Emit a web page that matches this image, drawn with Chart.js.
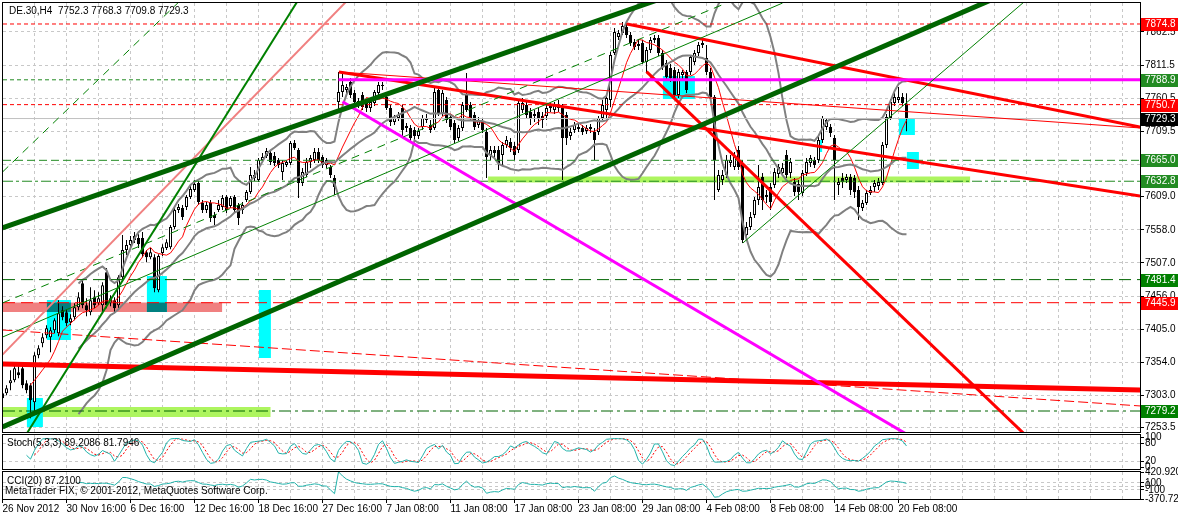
<!DOCTYPE html>
<html>
<head>
<meta charset="utf-8">
<title>DE.30,H4</title>
<script src="https://cdn.jsdelivr.net/npm/chart.js@4.4.1/dist/chart.umd.min.js"></script>
<style>
  html, body { margin: 0; padding: 0; background: #fff; overflow: hidden; }
  #wrap { position: relative; width: 1178px; height: 516px; }
  #wrap canvas { position: absolute; left: 0; top: 0; }
</style>
</head>
<body>
<div id="wrap">
  <canvas id="mainChart" width="1178" height="516"></canvas>
  <canvas id="stochChart" width="1178" height="516"></canvas>
  <canvas id="cciChart" width="1178" height="516"></canvas>
</div>
<script>
// DE.30 H4 candles, bar 0 = 26 Nov 2012 ... bar 226 = 20 Feb 2013 16:00
let opens = [
    7298.9, 7306.6, 7322.0, 7326.6, 7338.9, 7345.1, 7322.0, 7318.9, 7292.7, 7365.1,
    7383.6, 7395.9, 7392.8, 7403.6, 7399.0, 7434.4, 7431.3, 7415.9, 7423.6, 7439.0,
    7476.0, 7442.1, 7431.3, 7454.4, 7445.2, 7442.1, 7492.9, 7445.2, 7449.8, 7442.1,
    7485.2, 7526.8, 7534.5, 7542.2, 7545.3, 7545.3, 7523.7, 7516.0, 7516.0, 7465.2,
    7522.2, 7529.9, 7531.4, 7562.2, 7588.4, 7591.5, 7593.0, 7608.4, 7619.2, 7630.0,
    7599.2, 7588.4, 7599.2, 7580.7, 7588.4, 7593.0, 7608.4, 7594.6, 7608.4, 7596.1,
    7588.4, 7603.8, 7616.1, 7642.3, 7634.6, 7665.4, 7671.6, 7676.2, 7671.6, 7665.4,
    7646.9, 7657.7, 7660.8, 7691.6, 7680.8, 7630.0, 7642.3, 7662.3, 7665.4, 7677.7,
    7670.0, 7657.7, 7654.6, 7637.7, 7754.7, 7770.1, 7773.2, 7785.5, 7768.6, 7756.3,
    7765.5, 7753.2, 7745.5, 7753.2, 7768.6, 7780.9, 7762.4, 7745.5, 7724.1, 7730.1,
    7745.5, 7714.7, 7714.7, 7711.6, 7702.4, 7716.2, 7727.0, 7719.3, 7714.7, 7773.2,
    7737.8, 7757.8, 7731.6, 7722.4, 7699.3, 7714.7, 7765.5, 7750.1, 7734.7, 7719.3,
    7723.9, 7708.5, 7673.1, 7680.8, 7680.8, 7673.1, 7688.5, 7693.1, 7687.0, 7680.8,
    7742.4, 7750.1, 7739.3, 7733.2, 7739.3, 7733.2, 7733.2, 7745.5, 7742.4, 7748.6,
    7745.5, 7734.7, 7702.4, 7711.6, 7716.2, 7714.7, 7710.1, 7713.1, 7708.5, 7708.5,
    7730.1, 7742.4, 7757.8, 7830.2, 7854.8, 7861.0, 7870.2, 7857.9, 7847.1, 7841.0,
    7845.6, 7816.3, 7834.8, 7850.2, 7853.3, 7830.2, 7814.8, 7807.1, 7804.0, 7765.5,
    7796.3, 7800.9, 7800.9, 7816.3, 7830.2, 7842.5, 7822.5, 7800.9, 7762.4, 7619.2,
    7634.6, 7642.3, 7660.8, 7654.6, 7680.8, 7660.8, 7549.9, 7562.2, 7580.7, 7603.8,
    7639.2, 7611.5, 7623.8, 7627.0, 7643.8, 7645.4, 7673.1, 7645.4, 7631.5, 7628.4,
    7614.6, 7645.4, 7660.8, 7665.4, 7665.4, 7696.2, 7716.2, 7716.2, 7699.3, 7627.0,
    7637.7, 7634.6, 7639.2, 7637.7, 7619.2, 7591.5, 7599.2, 7614.6, 7623.8, 7625.4,
    7630.0, 7688.5, 7730.1, 7753.2, 7757.8, 7762.4, 7752.3
];
let highs = [
    7311.2, 7318.9, 7342.0, 7349.7, 7348.2, 7349.7, 7326.6, 7322.0, 7369.7, 7380.5,
    7399.0, 7411.3, 7408.2, 7422.1, 7449.8, 7440.6, 7435.9, 7428.2, 7445.2, 7462.1,
    7480.6, 7452.9, 7469.8, 7465.2, 7462.1, 7477.5, 7499.1, 7457.5, 7454.4, 7488.3,
    7549.9, 7542.2, 7548.4, 7554.5, 7551.4, 7554.5, 7526.8, 7529.9, 7520.6, 7520.6,
    7536.0, 7543.7, 7565.3, 7591.5, 7597.6, 7596.1, 7611.5, 7626.9, 7634.6, 7633.1,
    7603.8, 7600.7, 7603.8, 7585.3, 7603.8, 7611.5, 7611.5, 7610.0, 7611.5, 7599.2,
    7600.7, 7619.2, 7654.6, 7650.0, 7668.5, 7676.2, 7683.9, 7680.8, 7677.7, 7668.5,
    7665.4, 7665.4, 7694.7, 7696.2, 7683.9, 7653.1, 7668.5, 7673.1, 7683.9, 7683.9,
    7673.1, 7668.5, 7657.7, 7642.3, 7800.9, 7799.4, 7782.4, 7791.7, 7773.2, 7760.9,
    7770.1, 7757.8, 7760.9, 7773.2, 7785.5, 7785.5, 7767.0, 7750.1, 7734.7, 7739.3,
    7750.1, 7722.4, 7719.3, 7716.2, 7714.7, 7734.7, 7736.2, 7727.0, 7776.3, 7779.4,
    7773.2, 7762.4, 7736.2, 7727.0, 7719.3, 7754.7, 7799.4, 7754.7, 7739.3, 7731.6,
    7730.1, 7714.7, 7687.0, 7687.0, 7687.0, 7693.1, 7702.4, 7699.3, 7693.1, 7757.8,
    7760.9, 7757.8, 7745.5, 7742.4, 7745.5, 7739.3, 7751.6, 7753.2, 7754.7, 7757.8,
    7751.6, 7739.3, 7714.7, 7723.9, 7720.8, 7719.3, 7719.3, 7720.8, 7714.7, 7733.2,
    7757.8, 7765.5, 7831.7, 7868.7, 7865.6, 7877.9, 7876.4, 7862.5, 7851.7, 7850.2,
    7850.2, 7839.4, 7854.8, 7857.9, 7857.9, 7834.8, 7819.4, 7813.2, 7808.6, 7805.5,
    7804.0, 7804.0, 7827.1, 7834.8, 7847.1, 7850.2, 7842.5, 7807.1, 7765.5, 7650.0,
    7650.0, 7673.1, 7673.1, 7677.7, 7687.0, 7665.4, 7569.9, 7585.3, 7608.4, 7657.7,
    7645.4, 7619.2, 7630.0, 7653.1, 7659.2, 7660.8, 7680.8, 7668.5, 7637.7, 7634.6,
    7650.0, 7668.5, 7673.1, 7670.0, 7700.8, 7733.2, 7730.1, 7720.8, 7703.9, 7637.7,
    7645.4, 7643.8, 7643.8, 7642.3, 7625.4, 7603.8, 7619.2, 7625.4, 7634.6, 7637.7,
    7693.1, 7736.2, 7759.3, 7768.6, 7777.8, 7768.6, 7768.3
];
let lows = [
    7295.8, 7303.5, 7311.2, 7323.5, 7329.7, 7314.3, 7306.6, 7268.1, 7275.8, 7360.5,
    7377.4, 7391.3, 7369.7, 7399.0, 7394.4, 7419.0, 7409.8, 7411.3, 7419.0, 7434.4,
    7437.5, 7425.2, 7426.7, 7437.5, 7442.1, 7431.3, 7437.5, 7440.6, 7431.3, 7437.5,
    7480.6, 7519.1, 7528.3, 7537.6, 7529.9, 7516.0, 7508.3, 7512.9, 7462.1, 7462.1,
    7517.6, 7526.8, 7528.3, 7559.1, 7583.8, 7573.0, 7588.4, 7605.3, 7616.1, 7596.1,
    7583.8, 7583.8, 7569.9, 7565.3, 7585.3, 7588.4, 7583.8, 7591.5, 7585.3, 7565.3,
    7582.2, 7600.7, 7613.0, 7633.1, 7631.5, 7662.3, 7668.5, 7657.7, 7656.2, 7653.1,
    7634.6, 7654.6, 7657.7, 7680.8, 7606.9, 7625.4, 7639.2, 7653.1, 7660.8, 7660.8,
    7653.1, 7653.1, 7637.7, 7611.5, 7742.4, 7762.4, 7765.5, 7760.9, 7750.1, 7745.5,
    7742.4, 7739.3, 7739.3, 7748.6, 7764.0, 7773.2, 7742.4, 7717.8, 7719.3, 7725.5,
    7699.3, 7708.5, 7694.7, 7696.2, 7697.7, 7711.6, 7722.4, 7707.0, 7711.6, 7733.2,
    7733.2, 7722.4, 7711.6, 7691.6, 7694.7, 7710.1, 7739.3, 7725.5, 7711.6, 7714.7,
    7707.0, 7637.7, 7665.4, 7668.5, 7650.0, 7657.7, 7683.9, 7677.7, 7665.4, 7676.2,
    7737.8, 7730.1, 7719.3, 7723.9, 7719.3, 7714.7, 7727.0, 7739.3, 7736.2, 7739.3,
    7634.6, 7688.5, 7696.2, 7707.0, 7708.5, 7703.9, 7705.4, 7707.0, 7665.4, 7703.9,
    7727.0, 7730.1, 7747.0, 7827.1, 7850.2, 7857.9, 7853.3, 7841.0, 7834.8, 7834.8,
    7813.2, 7800.9, 7830.2, 7845.6, 7825.6, 7804.0, 7788.6, 7785.5, 7760.9, 7760.9,
    7788.6, 7768.6, 7796.3, 7811.7, 7825.6, 7837.9, 7796.3, 7757.8, 7603.8, 7616.1,
    7627.0, 7637.7, 7654.6, 7650.0, 7650.0, 7537.6, 7545.3, 7557.6, 7576.1, 7596.1,
    7588.4, 7599.2, 7588.4, 7622.3, 7637.7, 7640.8, 7637.7, 7637.7, 7610.0, 7603.8,
    7610.0, 7640.8, 7654.6, 7653.1, 7660.8, 7691.6, 7711.6, 7700.8, 7603.8, 7611.5,
    7622.3, 7630.0, 7611.5, 7606.9, 7573.0, 7586.9, 7596.1, 7611.5, 7616.1, 7619.2,
    7626.9, 7683.9, 7727.0, 7748.6, 7753.2, 7748.6, 7709.8
];
let closes = [
    7306.6, 7314.3, 7326.6, 7345.1, 7334.3, 7318.9, 7311.2, 7295.8, 7365.1, 7375.9,
    7392.8, 7406.7, 7403.6, 7419.0, 7429.8, 7423.6, 7414.4, 7422.1, 7439.0, 7454.4,
    7442.1, 7434.4, 7449.8, 7442.1, 7452.9, 7472.9, 7442.1, 7452.9, 7437.5, 7485.2,
    7526.8, 7534.5, 7542.2, 7548.4, 7536.0, 7520.6, 7516.0, 7523.7, 7468.3, 7517.6,
    7531.4, 7539.1, 7562.2, 7588.4, 7593.0, 7577.6, 7608.4, 7620.7, 7628.4, 7600.7,
    7588.4, 7596.1, 7576.1, 7576.1, 7596.1, 7606.9, 7588.4, 7606.9, 7588.4, 7576.1,
    7596.1, 7616.1, 7642.3, 7637.7, 7665.4, 7670.0, 7679.3, 7662.3, 7660.8, 7657.7,
    7660.8, 7662.3, 7691.6, 7683.9, 7630.0, 7646.9, 7662.3, 7668.5, 7677.7, 7665.4,
    7657.7, 7665.4, 7642.3, 7623.8, 7770.1, 7780.9, 7777.8, 7765.5, 7754.7, 7751.6,
    7747.0, 7745.5, 7754.7, 7770.1, 7780.9, 7779.4, 7745.5, 7724.1, 7730.1, 7734.7,
    7711.6, 7717.8, 7699.3, 7702.4, 7710.1, 7730.1, 7730.1, 7711.6, 7770.1, 7737.8,
    7768.6, 7727.0, 7716.2, 7696.2, 7714.7, 7750.1, 7742.4, 7730.1, 7716.2, 7727.0,
    7711.6, 7670.0, 7680.8, 7676.2, 7660.8, 7688.5, 7696.2, 7683.9, 7673.1, 7753.2,
    7753.2, 7734.7, 7730.1, 7736.2, 7730.1, 7727.0, 7745.5, 7748.6, 7750.1, 7745.5,
    7699.3, 7699.3, 7708.5, 7719.3, 7713.1, 7708.5, 7714.7, 7716.2, 7696.2, 7730.1,
    7750.1, 7760.9, 7827.1, 7862.5, 7861.0, 7871.8, 7857.9, 7845.6, 7839.4, 7844.0,
    7816.3, 7834.8, 7850.2, 7853.3, 7830.2, 7808.6, 7793.2, 7791.7, 7765.5, 7800.9,
    7800.9, 7773.2, 7824.0, 7830.2, 7842.5, 7845.6, 7800.9, 7762.4, 7665.4, 7642.3,
    7642.3, 7665.4, 7665.4, 7670.0, 7654.6, 7542.2, 7562.2, 7577.6, 7603.8, 7623.8,
    7603.8, 7608.4, 7600.7, 7646.9, 7654.6, 7653.1, 7642.3, 7662.3, 7616.1, 7616.1,
    7645.4, 7662.3, 7668.5, 7657.7, 7696.2, 7730.1, 7727.0, 7707.0, 7665.4, 7631.5,
    7631.5, 7639.2, 7619.2, 7616.1, 7593.0, 7599.2, 7614.6, 7619.2, 7630.0, 7631.5,
    7688.5, 7731.6, 7754.7, 7762.4, 7762.4, 7753.2, 7729.3
];

// axis labels
let dateLabels = ['26 Nov 2012', '30 Nov 16:00', '6 Dec 16:00', '12 Dec 16:00', '18 Dec 16:00',
    '27 Dec 16:00', '7 Jan 08:00', '11 Jan 08:00', '17 Jan 08:00', '23 Jan 08:00',
    '29 Jan 08:00', '4 Feb 08:00', '8 Feb 08:00', '14 Feb 08:00', '20 Feb 08:00'];
let priceTicks = [7862.5, 7811.5, 7760.5, 7709.5, 7658.5, 7609.0, 7558.0, 7507.0, 7456.0, 7405.0, 7354.0, 7303.0, 7253.5];
let stochTicks = [100, 80, 20, 0];
let cciTicks = [420.9207, 100, 0, -100, -370.7295];
let cciTickText = ['420.9207', '100', '0', '-100', '-370.7295'];

// horizontal price levels
let levels = [7874.8, 7788.9, 7750.7, 7729.3, 7665.0, 7632.8, 7481.4, 7445.9, 7279.2];

// trend lines [bar1, price1, bar2, price2]
let trendLines = [
    [0, 7561.0, 175, 7936.0],
    [0, 7254.6, 260, 7946.0],
    [5, 7234.0, 76, 7932.0],
    [0, 7366.0, 90, 7935.0],
    [0, 7647.0, 46, 7920.0],
    [185.1, 7537.8, 258, 7922.5],
    [0, 7445.5, 181, 7907.0],
    [0, 7393.0, 195, 7907.0],
    [84, 7788.9, 285, 7788.9],
    [85, 7755.2, 230, 7229.1],
    [156.1, 7874.9, 284.4, 7716.3],
    [84.1, 7801.0, 284.4, 7610.2],
    [84.1, 7801.0, 284.4, 7714.8],
    [161, 7801.6, 258, 7228.7],
    [0, 7351.6, 284.4, 7311.6],
    [0, 7403.9, 284.4, 7287.0]
];

// rectangles [bar1, bar2, priceTop, priceBottom]
let cyanBoxes = [
    [11.1, 17.1, 7450.1, 7388.5],
    [6.1, 10.1, 7299.3, 7254.7],
    [36.1, 41.1, 7487.0, 7431.6],
    [64.1, 67.1, 7465.5, 7360.8],
    [165.1, 173.1, 7794.8, 7759.4],
    [224.1, 228.1, 7728.7, 7704.0],
    [226.1, 229.1, 7677.9, 7651.7],
    [204.1, 204.9, 7696.3, 7677.9]
];
let pinkBox = [0, 54.9, 7446.0, 7431.6];
let greenBoxes = [
    [0, 67.0, 7285.4, 7270.0],
    [121.4, 241.9, 7640.0, 7631.0]
];

// ---------------------------------------------------------------
const FONT = '"Liberation Sans", Arial, sans-serif';
const N = closes.length;
const X_MIN = 0.125, X_MAX = 284.375;
const gridBars = [];
for (let b = 0; b <= 280; b += 8) gridBars.push(b);

const levelStyles = [
    {color: '#ff0000', dash: [4, 3], box: '#ff0000'},
    {color: '#228b22', dash: [4, 3], box: '#228b22'},
    {color: '#ff0000', dash: [4, 3], box: '#ff0000'},
    {color: '#c0c0c0', dash: [], box: '#000000'},
    {color: '#228b22', dash: [8, 4], box: '#228b22'},
    {color: '#228b22', dash: [10, 3, 3, 3], box: '#228b22'},
    {color: '#006400', dash: [12, 6], box: '#008000'},
    {color: '#ff0000', dash: [12, 6], box: '#ff0000'},
    {color: '#006400', dash: [12, 4, 3, 4], box: '#008000'}
];
const trendStyles = [
    {color: '#006400', width: 5},
    {color: '#006400', width: 5},
    {color: '#008000', width: 2},
    {color: '#f08080', width: 2},
    {color: '#008000', width: 1, dash: [8, 6]},
    {color: '#008000', width: 1},
    {color: '#008000', width: 1, dash: [8, 6]},
    {color: '#008000', width: 1},
    {color: '#ff00ff', width: 3},
    {color: '#ff00ff', width: 3},
    {color: '#ff0000', width: 3},
    {color: '#ff0000', width: 3},
    {color: '#ff0000', width: 1},
    {color: '#ff0000', width: 3},
    {color: '#ff0000', width: 5},
    {color: '#ff0000', width: 1, dash: [10, 4]}
];

// indicators (Bollinger 20/2, MA 8, Stochastic 5/3/3, CCI 20)
let bbMid = [], bbUp = [], bbLo = [], ma8 = [];
for (let i = 0; i < N; i++) {
    if (i >= 19) {
        let s = 0;
        for (let k = i - 19; k <= i; k++) s += closes[k];
        let m = s / 20, v = 0;
        for (let k = i - 19; k <= i; k++) v += (closes[k] - m) * (closes[k] - m);
        let sd = Math.sqrt(v / 20);
        bbMid.push(m); bbUp.push(m + 2 * sd); bbLo.push(m - 2 * sd);
    } else {
        bbMid.push(null); bbUp.push(null); bbLo.push(null);
    }
    if (i >= 7) {
        let s = 0;
        for (let k = i - 7; k <= i; k++) s += closes[k];
        ma8.push(s / 8);
    } else ma8.push(null);
}

let num = [], den = [], stochMain = [], stochSignal = [];
for (let i = 0; i < N; i++) {
    if (i >= 4) {
        let hh = -Infinity, ll = Infinity;
        for (let k = i - 4; k <= i; k++) { hh = Math.max(hh, highs[k]); ll = Math.min(ll, lows[k]); }
        num.push(closes[i] - ll); den.push(hh - ll);
    } else { num.push(null); den.push(null); }
    if (i >= 6) {
        let a = num[i] + num[i - 1] + num[i - 2], b = den[i] + den[i - 1] + den[i - 2];
        stochMain.push(b ? 100 * a / b : 100);
    } else stochMain.push(null);
    if (i >= 8) stochSignal.push((stochMain[i] + stochMain[i - 1] + stochMain[i - 2]) / 3);
    else stochSignal.push(null);
}

let tp = closes.map((c, i) => (highs[i] + lows[i] + c) / 3);
let cci = tp.map((t, i) => {
    if (i < 19) return null;
    let s = 0;
    for (let k = i - 19; k <= i; k++) s += tp[k];
    let m = s / 20, d = 0;
    for (let k = i - 19; k <= i; k++) d += Math.abs(tp[k] - m);
    d /= 20;
    return d ? (t - m) / (0.015 * d) : 0;
});

// ---------------------------------------------------------------
function pts(arr) {
    return arr.map((v, i) => ({x: i, y: v}));
}
function lineSet(data, color, width, dash, order) {
    return {type: 'line', data: data, borderColor: color, borderWidth: width, borderDash: dash || [],
        pointRadius: 0, fill: false, tension: 0, order: order, clip: 0};
}
function boxSet(b, color, order) {
    return {type: 'line', data: [{x: b[0], y: b[2]}, {x: b[1], y: b[2]}, {x: b[1], y: b[3]}, {x: b[0], y: b[3]}],
        borderColor: 'rgba(0,0,0,0)', borderWidth: 0, backgroundColor: color, fill: 'shape',
        pointRadius: 0, order: order, clip: 0};
}
function overlap(a, b) {
    let x1 = Math.max(a[0], b[0]), x2 = Math.min(a[1], b[1]);
    let top = Math.min(a[2], b[2]), bot = Math.max(a[3], b[3]);
    return (x2 > x1 && top > bot) ? [x1, x2, top, bot] : null;
}

function gridX() {
    return {
        type: 'linear', min: X_MIN, max: X_MAX, offset: false,
        afterBuildTicks: s => { s.ticks = gridBars.map(v => ({value: v})); },
        ticks: {display: false},
        grid: {color: '#c8c8c8', drawTicks: false, offset: false},
        border: {display: false, dash: [3, 3]}
    };
}
function rightY(min, max, tickVals, fmt, gridColor) {
    return {
        position: 'right', min: min, max: max,
        afterBuildTicks: s => { s.ticks = tickVals.map(v => ({value: v})); },
        afterFit: s => { s.width = 38; s.paddingTop = 0; s.paddingBottom = 0; },
        ticks: {autoSkip: false, color: '#000', font: {family: FONT, size: 10}, padding: 1, callback: fmt},
        grid: {color: gridColor, tickColor: '#000', tickLength: 4},
        border: {display: false, dash: [3, 3]}
    };
}

const framePlugin = {
    id: 'frame',
    afterDraw(chart) {
        let ctx = chart.ctx, a = chart.chartArea;
        ctx.save();
        ctx.strokeStyle = '#000';
        ctx.lineWidth = 1;
        ctx.strokeRect(a.left - 0.5, a.top - 0.5, a.right - a.left + 1, a.bottom - a.top + 1);
        ctx.restore();
    }
};
function textPlugin(items) {
    return {
        id: 'texts',
        afterDraw(chart) {
            let ctx = chart.ctx;
            ctx.save();
            ctx.font = '10px ' + FONT;
            ctx.fillStyle = '#000';
            ctx.textBaseline = 'middle';
            items.forEach(t => ctx.fillText(t[0], t[1], t[2]));
            ctx.restore();
        }
    };
}
const levelLabelPlugin = {
    id: 'levelLabels',
    afterDraw(chart) {
        let ctx = chart.ctx, ys = chart.scales.y;
        ctx.save();
        ctx.font = '10px ' + FONT;
        ctx.textBaseline = 'middle';
        levels.forEach((v, i) => {
            let y = Math.round(ys.getPixelForValue(v));
            ctx.fillStyle = levelStyles[i].box;
            ctx.fillRect(1141, y - 6, 37, 13);
            ctx.fillStyle = '#fff';
            ctx.fillText(v.toFixed(1), 1145, y + 0.5);
        });
        ctx.restore();
    }
};

const commonOpts = {
    responsive: false,
    animation: false,
    events: [],
    plugins: {legend: {display: false}, tooltip: {enabled: false}},
    elements: {point: {radius: 0}, line: {tension: 0}}
};

// ---- main price window
let mainSets = [];
trendLines.forEach((t, i) => {
    let st = trendStyles[i];
    mainSets.push(lineSet([{x: t[0], y: t[1]}, {x: t[2], y: t[3]}], st.color, st.width, st.dash, 1));
});
levels.forEach((v, i) => {
    mainSets.push(lineSet([{x: X_MIN, y: v}, {x: X_MAX, y: v}], levelStyles[i].color, 1, levelStyles[i].dash, 2));
});
mainSets.push(lineSet(pts(bbUp), '#808080', 2, [], 3));
mainSets.push(lineSet(pts(bbMid), '#808080', 2, [], 3));
mainSets.push(lineSet(pts(bbLo), '#808080', 2, [], 3));
mainSets.push(lineSet(pts(ma8), '#ff0000', 1, [], 3));
mainSets.push({
    type: 'bar', order: 4, grouped: false, barThickness: 3, minBarLength: 1, inflateAmount: 0,
    data: closes.map((c, i) => ({x: i, y: [opens[i], c]})),
    backgroundColor: ctx => closes[ctx.dataIndex] >= opens[ctx.dataIndex] ? '#ffffff' : '#000000',
    borderColor: '#000', borderWidth: 1, borderSkipped: false
});
mainSets.push({
    type: 'bar', order: 5, grouped: false, barThickness: 1, inflateAmount: 0,
    data: closes.map((c, i) => ({x: i, y: [lows[i], highs[i]]})),
    backgroundColor: '#000', borderWidth: 0
});
greenBoxes.forEach(b => mainSets.push(boxSet(b, '#adf55f', 13)));
mainSets.push(boxSet(pinkBox, '#f08080', 13));
cyanBoxes.forEach(b => {
    mainSets.push(boxSet(b, '#00ffff', 12));
    let o = overlap(b, pinkBox);
    if (o) mainSets.push(boxSet(o, '#008080', 11));
});

new Chart(document.getElementById('mainChart'), {
    type: 'line',
    data: {datasets: mainSets},
    options: Object.assign({}, commonOpts, {
        layout: {padding: {top: 3, left: 3, right: 0, bottom: 84}},
        scales: {
            x: gridX(),
            y: rightY(7246.9, 7907.1, priceTicks, v => Number(v).toFixed(1), '#c8c8c8')
        }
    }),
    plugins: [framePlugin, levelLabelPlugin,
        textPlugin([['DE.30,H4  7752.3 7768.3 7709.8 7729.3', 9, 11]])]
});

// ---- Stochastic window
const levelGrid = vals => c => (c.tick && vals.indexOf(c.tick.value) >= 0) ? '#c8c8c8' : 'rgba(0,0,0,0)';

new Chart(document.getElementById('stochChart'), {
    type: 'line',
    data: {datasets: [
        lineSet(pts(stochMain), '#20b2aa', 1, [], 1),
        lineSet(pts(stochSignal), '#ff0000', 1, [2, 2], 2)
    ]},
    options: Object.assign({}, commonOpts, {
        layout: {padding: {top: 435, left: 3, right: 0, bottom: 47}},
        scales: {
            x: gridX(),
            y: rightY(-5, 108.3, stochTicks, v => String(v), levelGrid([80, 20]))
        }
    }),
    plugins: [framePlugin, textPlugin([['Stoch(5,3,3) 89.2086 81.7946', 7, 443]])]
});

// ---- CCI window + time axis
new Chart(document.getElementById('cciChart'), {
    type: 'line',
    data: {datasets: [lineSet(pts(cci), '#20b2aa', 1, [], 1)]},
    options: Object.assign({}, commonOpts, {
        layout: {padding: {top: 472, left: 3, right: 0, bottom: 0}},
        scales: {
            x: gridX(),
            xl: {
                type: 'linear', position: 'bottom', min: X_MIN, max: X_MAX, offset: false,
                afterBuildTicks: s => { s.ticks = dateLabels.map((_, k) => ({value: k * 16})); },
                afterFit: s => { s.height = 17; s.paddingLeft = 0; s.paddingRight = 0; },
                ticks: {autoSkip: false, maxRotation: 0, align: 'start', padding: 0, color: '#000',
                    font: {family: FONT, size: 10}, callback: (v, k) => dateLabels[k]},
                grid: {drawOnChartArea: false, color: '#000', tickLength: 4, offset: false},
                border: {display: false}
            },
            y: rightY(-370.7295, 420.9207, cciTicks, (v, k) => cciTickText[k], levelGrid([100, 0, -100]))
        }
    }),
    plugins: [framePlugin, textPlugin([
        ['CCI(20) 87.2100', 7, 481],
        ['MetaTrader FIX, \u00a9 2001-2012, MetaQuotes Software Corp.', 5, 491]
    ])]
});
</script>
</body>
</html>
